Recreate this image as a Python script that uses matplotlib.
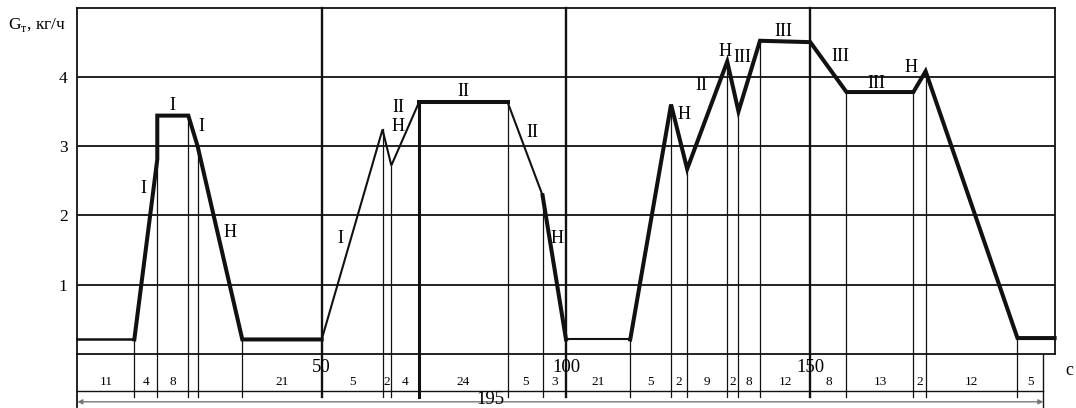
import matplotlib
matplotlib.use("Agg")
import matplotlib.pyplot as plt

plt.rcParams['font.family'] = ['Liberation Serif', 'DejaVu Serif']
plt.rcParams['mathtext.fontset'] = 'custom'
plt.rcParams['mathtext.rm'] = 'Liberation Serif'

# fuel flow profile, t in s, G in kg/h
t = [0, 11.65, 16.35, 16.35, 22.7, 24.6, 33.75, 50, 62.45, 64.25, 69.9, 88.07,
     95.2, 100, 113.15, 121.5, 124.8, 133.0, 135.3, 139.7, 150, 157.4, 171.1,
     173.6, 192.4, 200]
g = [0.21, 0.21, 2.81, 3.44, 3.44, 3.0, 0.21, 0.21, 3.24, 2.72, 3.63, 3.63,
     2.29, 0.21, 0.21, 3.6, 2.67, 4.22, 3.5, 4.52, 4.5, 3.78, 3.78,
     4.08, 0.23, 0.23]

# segment boundaries (s) and the curve level where each mark starts
bound_t = [11.65, 16.35, 22.7, 24.6, 33.75, 62.45, 64.25, 69.9, 88.07, 95.35,
           113.15, 121.5, 124.8, 133.0, 135.3, 139.7, 157.4, 171.1, 173.6, 192.4]
bound_top = [0.21, 3.44, 3.44, 3.0, 0.21, 3.24, 2.72, 3.63, 3.63, 2.29,
             0.21, 3.6, 2.67, 4.22, 3.5, 4.52, 3.78, 3.78, 4.08, 0.23]

# segment table: edges and durations
table_edges = [0, 11.65, 16.35, 22.7, 24.6, 33.75, 50, 62.45, 64.25, 69.9, 88.07,
               95.35, 100, 113.15, 121.5, 124.8, 133.0, 135.3, 139.7, 150, 157.4,
               171.1, 173.6, 192.4, 197.7]
durations = ["11", "4", "8", "", "", "21", "5", "2", "4", "24", "5", "3", "21",
             "5", "2", "9", "2", "8", "12", "8", "13", "2", "12", "5"]
total = "195"

# mode labels
mode_txt = ["I", "I", "I", "Н", "I",
            "II", "Н", "II", "II", "Н",
            "Н", "II", "Н", "III", "III", "III", "III", "Н"]
mode_x = [19.4, 25.3, 13.5, 31.2, 53.9,
          65.7, 65.7, 78.9, 93.2, 98.1,
          124.2, 127.8, 132.5, 136.1, 144.5, 156.2, 163.6, 170.6]
mode_y = [3.58, 3.28, 2.39, 1.75, 1.67,
          3.55, 3.28, 3.79, 3.19, 1.67,
          3.45, 3.87, 4.37, 4.28, 4.65, 4.29, 3.91, 4.13]

# line weight per curve segment: 0 thin, 1 medium, 2 thick
seg_w = [1, 2, 2, 2, 2, 2, 2, 0, 0, 0, 2, 0, 2, 0,
         2, 2, 2, 2, 2, 2, 2, 2, 2, 2, 2]
widths = {0: 1.5, 1: 1.8, 2: 2.9}

K = '#111111'

fig = plt.figure(figsize=(10.76, 4.08), dpi=100)
ax = fig.add_axes([77.4 / 1076, (408 - 354) / 408, 977.2 / 1076, 346.5 / 408])
ax.set_xlim(0, 200)
ax.set_ylim(0, 5)

for s in ax.spines.values():
    s.set_linewidth(1.3)
    s.set_color(K)

ax.set_xticks([])
ax.set_yticks([1, 2, 3, 4])
ax.set_yticklabels(["1", "2", "3", "4"], fontsize=12.5)
ax.tick_params(axis='y', length=0, pad=7)

for v in [1, 2, 3, 4]:
    ax.axhline(v, color=K, lw=1.3, zorder=1)

y_tick_bot = -0.625
for v in [50, 100, 150]:
    ax.plot([v, v], [5, y_tick_bot], color=K, lw=1.7, clip_on=False, zorder=1)
    ax.text(v, -0.2, str(v), fontsize=13.5, ha='center', va='center')

ax.plot([0, 0], [0, -0.77], color=K, lw=1.3, clip_on=False)
ax.plot([197.7, 197.7], [0, -0.77], color=K, lw=1.0, clip_on=False)

for x, top in zip(bound_t, bound_top):
    lw = 2.2 if x == 69.9 else 0.9
    ax.plot([x, x], [top, y_tick_bot], color=K, lw=lw, clip_on=False, zorder=1)

# table row
ax.plot([0, 197.7], [-0.53, -0.53], color=K, lw=1.0, clip_on=False)
for i, d in enumerate(durations):
    xc = (table_edges[i] + table_edges[i + 1]) / 2
    ax.text(xc, -0.41, d, fontsize=9.5, ha='center', va='center')

ax.annotate('', xy=(0, -0.69), xytext=(197.7, -0.69),
            arrowprops=dict(arrowstyle='<|-|>', color='#777777', lw=1.0,
                            mutation_scale=7, shrinkA=0, shrinkB=0),
            annotation_clip=False)
ax.text(84.5, -0.66, total, fontsize=13.5, ha='center', va='center')
ax.text(203.1, -0.24, "c", fontsize=13, ha='center', va='center')

# profile curve, grouped by line weight
start = 0
for i in range(1, len(seg_w) + 1):
    if i == len(seg_w) or seg_w[i] != seg_w[start]:
        ax.plot(t[start:i + 1], g[start:i + 1], color=K,
                lw=widths[seg_w[start]], solid_joinstyle='miter',
                clip_on=False, zorder=3)
        start = i

for txt, x, y in zip(mode_txt, mode_x, mode_y):
    ax.text(x, y, txt, fontsize=13, ha='center', va='center', zorder=4)

fig.text(8 / 1076, 1 - 25 / 408, "G$_{\\mathrm{т}}$, кг/ч", fontsize=12.5,
         ha='left', va='center')

fig.savefig("out.png", dpi=100)
